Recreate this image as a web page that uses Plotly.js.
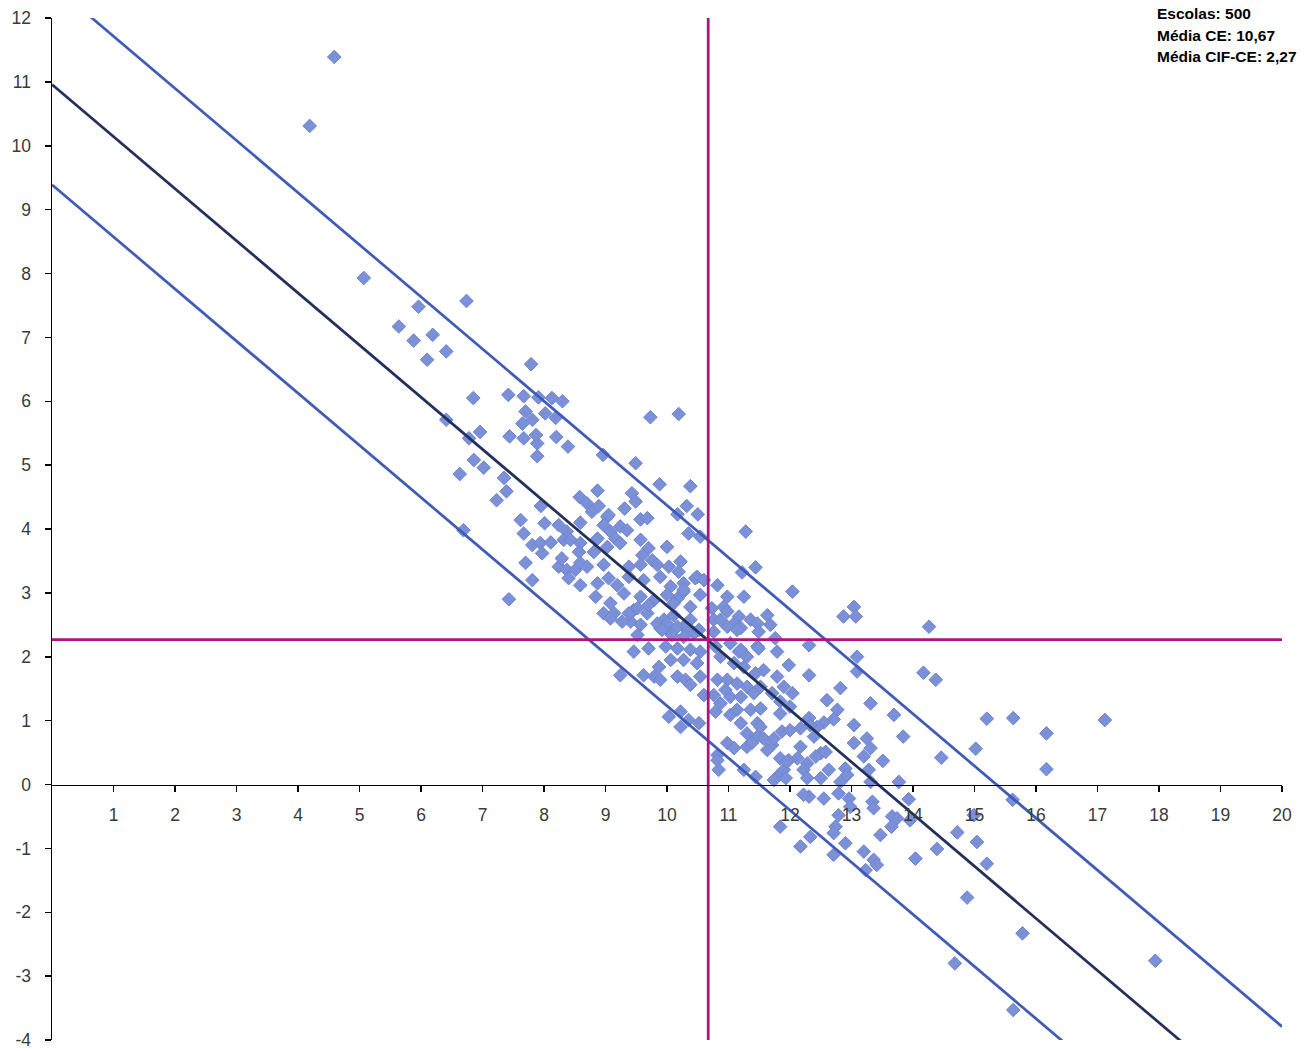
<!DOCTYPE html>
<html>
<head>
<meta charset="utf-8">
<script src="https://cdn.plot.ly/plotly-3.0.1.min.js"></script>
<style>html,body{margin:0;padding:0;background:#fff;}#chart{width:1312px;height:1051px;}</style>
</head>
<body>
<div id="chart"></div>
<script>
// ---- Data (CE on x, CIF-CE on y) ----
const ceA = [4.59,4.19,5.07,5.96,6.74,5.64,5.88,6.19,6.41,6.10,7.79,6.85,7.42,7.67,7.91,7.70,7.65,7.81,6.41,6.96,6.78,7.44,7.67,7.89,9.73,10.19];
const cifA = [11.39,10.31,7.93,7.48,7.57,7.17,6.95,7.04,6.78,6.65,6.58,6.05,6.10,6.08,6.06,5.84,5.65,5.71,5.71,5.52,5.42,5.45,5.42,5.34,5.75,5.80];

const ceB = [8.13,8.30,8.02,8.19,7.87,8.20,8.39,7.89,8.96,6.86,7.02,6.63,7.35,7.39,7.23,8.87,8.58,8.70,8.89,8.78,7.95,7.62,8.01,8.24,8.37,8.59,9.03,6.69,7.67,7.81,7.94,8.11,7.97,8.32,8.59,8.57,8.81];
const cifB = [6.05,6.00,5.81,5.74,5.47,5.44,5.29,5.14,5.16,5.08,4.96,4.86,4.80,4.59,4.45,4.60,4.50,4.40,4.36,4.27,4.36,4.14,4.09,4.06,3.96,4.10,4.19,3.98,3.93,3.75,3.78,3.79,3.62,3.83,3.78,3.64,3.64];

const ceC = [7.70,8.24,8.37,8.51,8.59,8.40,8.70,7.81,8.59,8.87,9.05,7.43,8.84,9.08,9.14,8.97];
const cifC = [3.47,3.41,3.36,3.36,3.47,3.23,3.41,3.20,3.12,3.15,3.23,2.90,2.94,2.84,2.68,2.68];

const ceD = [9.49,9.88,10.38,9.43,9.49,9.31,10.32,10.17,10.50,9.57,9.68,9.05,8.97,9.08,9.24,9.16,9.35,8.87,9.03,9.24,9.57,9.70,10.0,9.60,9.76,8.43,8.29,10.35,10.54,10.22,9.38,8.97,9.57,9.84,10.03,10.19,9.19,9.38,9.62,9.89,10.06,10.27,10.49,10.54,10.82,10.98,9.30,9.57,9.79,10.17,10.38,9.46,9.68,9.95,10.11,10.27,9.41,9.57,9.89,9.52,10.06,10.44,10.76,10.76,10.92];
const cifD = [5.03,4.70,4.67,4.56,4.43,4.32,4.36,4.23,4.23,4.15,4.17,4.22,4.06,3.96,4.04,3.85,3.98,3.85,3.72,3.78,3.83,3.70,3.72,3.59,3.51,3.83,3.54,3.93,3.88,3.49,3.41,3.44,3.44,3.44,3.41,3.33,3.12,3.25,3.20,3.25,3.10,3.15,3.25,2.97,3.12,2.94,2.99,2.94,2.89,2.91,2.78,2.73,2.68,2.58,2.65,2.47,2.55,2.50,2.45,2.34,2.39,2.37,2.58,2.39,2.78];

const ceE = [10.27,11.25,10.73,10.98,11.17,11.36,11.47,10.87,11.09,9.84,10.0,10.17,10.33,9.92,10.08,10.27,10.79,11.03,11.17,11.30,11.47,10.87,11.09,11.25,11.44,9.46,9.70,9.98,10.17,10.38,10.54,9.87,10.06,10.27,10.49,10.17,10.30,10.54,10.38,9.62,9.79,9.89,9.24,10.82,10.98,10.76,10.95,11.14,11.30,11.41,11.03,11.20,10.60,10.79,11.03,11.14,11.36,11.20,11.30,11.47,11.47,10.03,10.22,10.22,10.35,10.52,10.98,10.82,11.30];
const cifE = [3.02,2.94,2.76,2.71,2.63,2.58,2.52,2.58,2.52,2.52,2.52,2.47,2.47,2.42,2.34,2.31,2.16,2.21,2.08,2.00,2.16,2.00,1.90,1.84,1.74,2.08,2.13,2.16,2.13,2.11,2.08,1.84,1.95,1.95,1.90,1.69,1.64,1.69,1.56,1.71,1.69,1.64,1.71,1.64,1.64,1.40,1.48,1.58,1.53,1.43,1.37,1.37,1.40,1.14,1.09,1.17,1.17,0.96,0.80,0.96,0.75,1.06,1.14,0.90,1.01,0.96,0.65,0.46,0.59];

const ceF = [11.28,11.44,11.22,12.04,11.63,11.68,12.87,13.04,13.07,12.31,12.31,11.76,11.49,11.20,11.20,11.49,11.79,11.98,11.79,11.57,11.90,12.04,11.71,11.52,11.84,12.0,12.60,12.77,13.09,13.09,12.31,11.52,14.26];
const cifF = [3.96,3.40,3.32,3.02,2.65,2.50,2.63,2.78,2.63,2.18,1.71,2.29,2.39,2.45,2.11,2.13,2.08,1.87,1.69,1.79,1.53,1.43,1.43,1.53,1.30,1.22,1.32,1.17,1.77,2.0,1.04,1.19,2.47];

const ceG = [12.82,12.71,13.31,13.69,13.04,12.55,12.44,12.33,12.17,12.39,13.25,13.31,13.04,13.20,13.51,12.50,12.58,12.42,12.17,12.12,11.98,11.84,12.28,12.22,12.28,11.90,11.79,11.93,11.74,12.63,12.50,12.90,12.93,13.28,12.82,12.79,12.96,12.98,12.31,12.55,12.22,12.79,13.34,13.36,13.66,11.84,12.74,12.71,12.90,13.47,12.33,12.17,12.71,13.20,13.36,13.41,13.23,10.82,10.84,11.38,11.09,11.25,11.44,11.71,11.87,12.0,11.84,11.52,11.57,11.63,11.74,11.95,10.87];
const cifG = [1.51,1.02,1.27,1.09,0.93,0.97,0.90,0.93,0.88,0.75,0.72,0.57,0.65,0.44,0.37,0.49,0.51,0.44,0.59,0.41,0.38,0.41,0.33,0.23,0.10,0.23,0.12,0.10,0.07,0.23,0.10,0.25,0.15,0.23,0.04,-0.14,-0.22,-0.35,-0.19,-0.22,-0.16,-0.48,-0.27,-0.37,-0.50,-0.66,-0.66,-0.76,-0.92,-0.79,-0.82,-0.97,-1.10,-1.05,-1.18,-1.26,-1.34,0.38,0.23,0.65,0.57,0.23,0.12,0.62,0.83,0.85,1.11,0.90,0.72,0.54,0.72,0.36,1.27];

const ceH = [13.84,14.17,14.37,13.31,13.77,14.46,15.20,15.63,16.17,15.02,16.17,15.62,13.93,13.74,13.65,13.95,14.99,14.72,15.04,14.39,14.04,15.20,17.12,14.88,15.78,14.68,17.94,15.63];
const cifH = [0.75,1.75,1.64,0.04,0.04,0.42,1.03,1.04,0.80,0.56,0.24,-0.24,-0.23,-0.53,-0.66,-0.56,-0.48,-0.75,-0.90,-1.01,-1.16,-1.24,1.01,-1.77,-2.33,-2.80,-2.76,-3.53];

const ceI = [9.08,9.27,9.38,9.52,10.46,10.60,10.27,10.0,10.11,9.70,10.38,10.52,10.98,11.14];
const cifI = [2.60,2.55,2.68,2.76,3.23,3.20,3.05,2.97,2.84,2.81,2.58,2.42,2.47,2.42];

// Summary values
const nSchools = 500;
const meanCE = 10.67;
const meanCIF = 2.27;

// Reference lines: y = intercept + slope * x
const lineSlope = -0.816;
const upperIntercept = 12.53;
const centerIntercept = 10.96;
const lowerIntercept = 9.39;
const lineX = [0, 20];

const xTicks = [1,2,3,4,5,6,7,8,9,10,11,12,13,14,15,16,17,18,19,20];
const yTicks = [-4,-3,-2,-1,0,1,2,3,4,5,6,7,8,9,10,11,12];

// ---- Build ----
const ceAll = [].concat(ceA, ceB, ceC, ceD, ceE, ceF, ceG, ceH, ceI);
const cifAll = [].concat(cifA, cifB, cifC, cifD, cifE, cifF, cifG, cifH, cifI);
const lineY = b => lineX.map(x => b + lineSlope * x);

const blue = 'rgb(64,92,182)';
const navy = 'rgb(34,48,92)';
const magenta = 'rgb(176,18,128)';

const traces = [
  {x: ceAll, y: cifAll, type: 'scatter', mode: 'markers',
   marker: {symbol: 'diamond', size: 10.5, color: 'rgb(123,144,215)', line: {color: 'rgb(110,134,210)', width: 1}}},
  {x: lineX, y: lineY(upperIntercept), type: 'scatter', mode: 'lines', line: {color: blue, width: 2.75}},
  {x: lineX, y: lineY(lowerIntercept), type: 'scatter', mode: 'lines', line: {color: blue, width: 2.75}},
  {x: lineX, y: lineY(centerIntercept), type: 'scatter', mode: 'lines', line: {color: navy, width: 2.75}},
  {x: [meanCE, meanCE], y: [-4, 12], type: 'scatter', mode: 'lines', line: {color: magenta, width: 2.75}},
  {x: lineX, y: [meanCIF, meanCIF], type: 'scatter', mode: 'lines', line: {color: magenta, width: 2.75}}
];

const tickFont = {family: 'Liberation Sans, Arial, sans-serif', size: 17.5, color: '#3a3a3a'};
const noteFont = {family: 'Liberation Sans, Arial, sans-serif', size: 15.5, color: '#000'};

const layout = {
  width: 1312, height: 1051,
  margin: {l: 52, r: 30, t: 18, b: 11},
  paper_bgcolor: '#fff', plot_bgcolor: '#fff',
  showlegend: false,
  xaxis: {range: [0, 20], anchor: 'free', position: 0.25, showgrid: false, zeroline: false,
          showline: true, linecolor: '#000', linewidth: 1.5,
          ticks: 'outside', ticklen: 6, tickwidth: 1.5, tickcolor: '#000',
          tickmode: 'array', tickvals: xTicks, ticktext: xTicks.map(String),
          tickfont: tickFont, ticklabelstandoff: 8},
  yaxis: {range: [-4, 12], showgrid: false, zeroline: false,
          showline: true, linecolor: '#000', linewidth: 1.5,
          ticks: 'outside', ticklen: 6, tickwidth: 1.5, tickcolor: '#000',
          tickmode: 'array', tickvals: yTicks, ticktext: yTicks.map(String),
          tickfont: tickFont, ticklabelstandoff: 10},
  annotations: [
    {xref: 'paper', yref: 'paper', x: 0.8965, y: 1.0145, xanchor: 'left', yanchor: 'top', showarrow: false,
     text: '<b>Escolas: ' + nSchools + '</b>', font: noteFont},
    {xref: 'paper', yref: 'paper', x: 0.8965, y: 0.9935, xanchor: 'left', yanchor: 'top', showarrow: false,
     text: '<b>Média CE: ' + meanCE.toFixed(2).replace('.', ',') + '</b>', font: noteFont},
    {xref: 'paper', yref: 'paper', x: 0.8965, y: 0.9725, xanchor: 'left', yanchor: 'top', showarrow: false,
     text: '<b>Média CIF-CE: ' + meanCIF.toFixed(2).replace('.', ',') + '</b>', font: noteFont}
  ]
};

Plotly.newPlot('chart', traces, layout, {staticPlot: true, displayModeBar: false});
</script>
</body>
</html>
